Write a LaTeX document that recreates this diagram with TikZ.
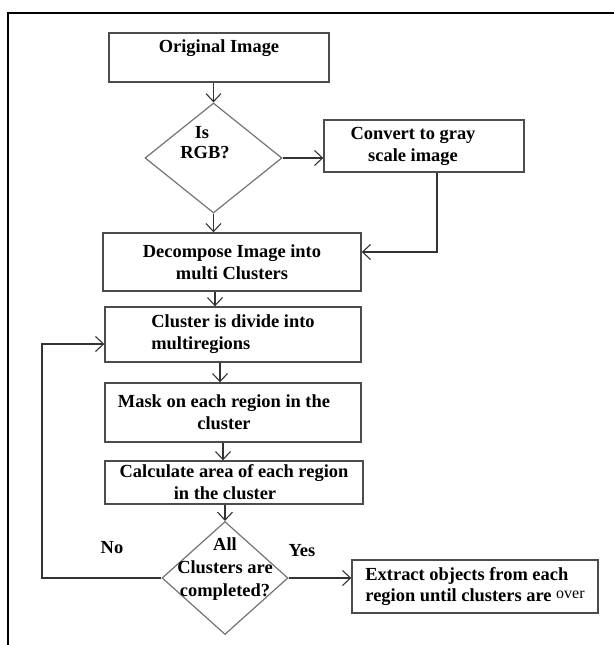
\documentclass[tikz,border=0pt]{standalone}
\usepackage{fontspec}
\setmainfont{Liberation Serif}
\usetikzlibrary{shapes.geometric,arrows.meta}
\tikzset{>={Straight Barb[length=8bp,width=15bp]}}
\tikzset{%
    stepbox/.style={draw=black!70, line width=1.4bp, inner sep=0pt, align=center,
        font=\bfseries\fontsize{18.5}{22}\selectfont},
    decision/.style={draw=black!55, line width=1.2bp, shape=diamond, inner sep=0pt},
    decisiontext/.style={align=center, inner sep=0pt, font=\bfseries\fontsize{18.5}{23}\selectfont},
    answer/.style={inner sep=0pt, font=\bfseries\fontsize{18.5}{22}\selectfont},
    flow/.style={->, line width=1.1bp, draw=black!80}
}

\begin{document}
\begin{tikzpicture}[x=1bp,y=-1bp]
\useasboundingbox (0,0) rectangle (614,645);
\draw[line width=1.5bp] (614,13) -- (8,13) -- (8,645);

\node[stepbox, minimum width=220bp, minimum height=49bp] (orig) at (219,57.5) {Original Image\\\mbox{}};

\node[decision, minimum width=137bp, minimum height=110bp] (rgb) at (213.5,158) {};
\node[decisiontext, font=\bfseries\fontsize{18.5}{20}\selectfont] (rgbtxt) at (205,143) {Is\hspace*{6bp}\\RGB?};

\node[stepbox, minimum width=200bp, minimum height=52bp] (gray) at (424,146)
    {Convert to gray\hspace*{22bp}\\scale image\hspace*{22bp}};

\node[stepbox, minimum width=258bp, minimum height=58bp] (decomp) at (232,262)
    {Decompose Image into\\multi Clusters};
\node[stepbox, minimum width=256bp, minimum height=55bp, align=left] (cluster) at (233,334.5)
    {Cluster is divide into\\multiregions};
\node[stepbox, minimum width=256bp, minimum height=59bp] (mask) at (233,412.5)
    {Mask on each region in the\hspace*{18bp}\\cluster\hspace*{18bp}};
\node[stepbox, minimum width=258bp, minimum height=43bp] (calc) at (234,482.5)
    {Calculate area of each region\\in the cluster\hspace*{18bp}};

\node[decision, minimum width=126bp, minimum height=113bp] (done) at (225,578) {};
\node[decisiontext, yshift=9bp] (donetxt) at (done) {All\\Clusters are\\completed?};

\node[stepbox, minimum width=246bp, minimum height=53bp, align=left] (extract) at (475,586.5)
    {Extract objects from each\\region until clusters are
     {\mdseries\fontsize{16}{22}\selectfont\raisebox{3bp}{over}}};

\node[answer] (no) at (112,548) {No};
\node[answer] (yes) at (302,551) {Yes};

% connectors
\draw[flow] (rgb.north |- orig.south) -- (rgb.north);
\draw[flow] (rgb.east) -- (rgb.east -| gray.west);
\draw[flow] (rgb.south) -- (rgb.south |- decomp.north);
\coordinate (bend) at (437,252);
\draw[flow] (gray.south -| bend) -- (bend) -- (bend -| decomp.east);
\draw[flow] ([xshift=-17bp]decomp.south) -- ([xshift=-17bp]decomp.south |- cluster.north);
\draw[flow] ([xshift=-13bp]cluster.south) -- ([xshift=-13bp]cluster.south |- mask.north);
\draw[flow] ([xshift=-10bp]mask.south) -- ([xshift=-10bp]mask.south |- calc.north);
\draw[flow] (done.north |- calc.south) -- (done.north);
\draw[flow] (done.east) -- (done.east -| extract.west);
\coordinate (back) at (42,344);
\draw[flow] (done.west) -| (back) -- (back -| cluster.west);
\end{tikzpicture}
\end{document}
